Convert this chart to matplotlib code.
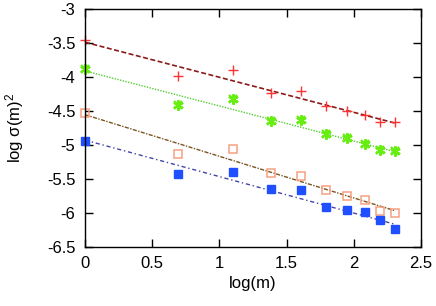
import numpy as np
import matplotlib
matplotlib.use("Agg")
import matplotlib.pyplot as plt

plt.rcParams['font.family'] = ['Liberation Sans', 'DejaVu Sans']
plt.rcParams['mathtext.fontset'] = 'custom'
plt.rcParams['mathtext.rm'] = 'Liberation Sans'
plt.rcParams['mathtext.it'] = 'Liberation Sans'

m = np.arange(1, 11)
x = np.log(m)

red_y = [-3.45, -3.98, -3.89, -4.23, -4.21, -4.42, -4.50, -4.56, -4.67, -4.67]
green_y = [-3.885, -4.41, -4.33, -4.65, -4.64, -4.84, -4.90, -4.98, -5.08, -5.085]
orange_y = [-4.53, -5.14, -5.065, -5.42, -5.46, -5.665, -5.76, -5.81, -5.975, -6.0]
blue_y = [-4.94, -5.43, -5.405, -5.65, -5.665, -5.92, -5.955, -5.985, -6.11, -6.245]

# fitted lines: (intercept, slope)
red_fit = (-3.487, -0.517)
green_fit = (-3.91, -0.517)
orange_fit = (-4.555, -0.614)
blue_fit = (-4.93, -0.538)

xticks = [0, 0.5, 1, 1.5, 2, 2.5]
xticklabels = ['0', '0.5', '1', '1.5', '2', '2.5']
yticks = [-6.5, -6, -5.5, -5, -4.5, -4, -3.5, -3]
yticklabels = ['-6.5', '-6', '-5.5', '-5', '-4.5', '-4', '-3.5', '-3']

fig = plt.figure(figsize=(4.36, 3.06), dpi=100)
ax = fig.add_axes([0.195, 0.194, 0.771, 0.776])

xl = np.array([x[0], x[-1]])
ax.plot(xl, red_fit[0] + red_fit[1] * xl, color='#8b1a1a', lw=1.2, dashes=(3, 1.5))
ax.plot(xl, green_fit[0] + green_fit[1] * xl, color='#55cc33', lw=1.0, dashes=(1, 1))
ax.plot(xl, orange_fit[0] + orange_fit[1] * xl, color='#7a5522', lw=1.0, dashes=(3, 1, 1, 1))
ax.plot(xl, blue_fit[0] + blue_fit[1] * xl, color='#4444aa', lw=1.0, dashes=(3, 2, 1, 2))

ax.plot(x, red_y, ls='none', marker='+', ms=6.5, mew=1.0, color='#ff3333', clip_on=False)
ax.plot(x, green_y, ls='none', marker=(6, 2, 0), ms=7.5, mew=1.5, color='#66ee11', clip_on=False)
ax.plot(x, green_y, ls='none', marker='x', ms=6, mew=1.6, color='#66ee11', clip_on=False)
ax.plot(x, orange_y, ls='none', marker='s', ms=6.3, mfc='none', mec='#f5a080', mew=1.1, clip_on=False)
ax.plot(x, blue_y, ls='none', marker='s', ms=5.8, color='#1f4fff', clip_on=False)

ax.set_xlim(0, 2.5)
ax.set_ylim(-6.5, -3)
ax.set_xticks(xticks)
ax.set_xticklabels(xticklabels)
ax.set_yticks(yticks)
ax.set_yticklabels(yticklabels)
ax.tick_params(direction='in', top=True, right=True, length=6, width=1, labelsize=12, pad=7)
for s in ax.spines.values():
    s.set_linewidth(1)

ax.set_xlabel('log(m)', fontsize=12, labelpad=3)
ax.set_ylabel(r'log σ(m)$^2$', fontsize=12, labelpad=15)

fig.savefig('out.png', dpi=100)
